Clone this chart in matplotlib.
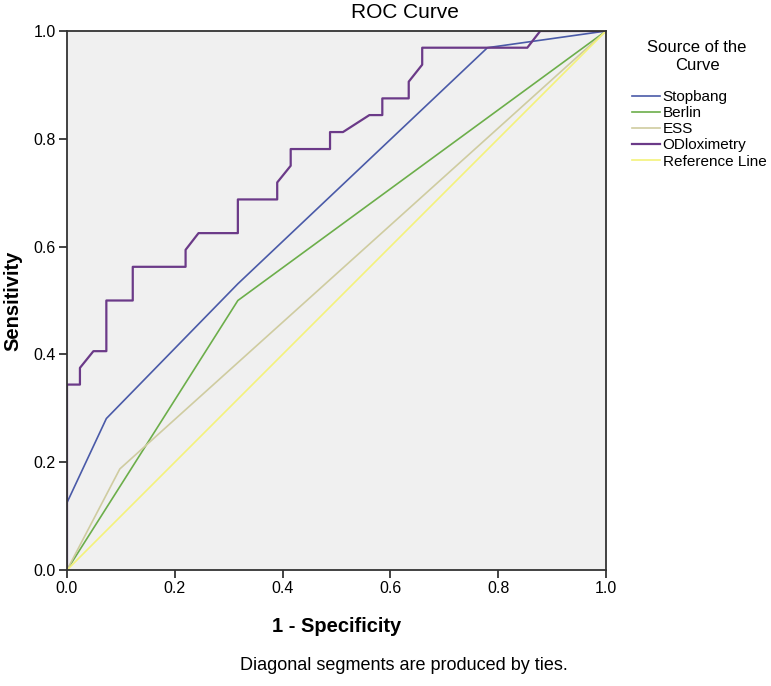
import matplotlib
matplotlib.use("Agg")
import matplotlib.pyplot as plt

# ROC coordinates (1 - specificity, sensitivity)
stop_x = [0.0, 0.0, 0.073, 0.317, 0.780, 1.0]
stop_y = [0.0, 0.125, 0.281, 0.531, 0.969, 1.0]

berlin_x = [0.0, 0.317, 1.0]
berlin_y = [0.0, 0.5, 1.0]

ess_x = [0.0, 0.098, 1.0]
ess_y = [0.0, 0.1875, 1.0]

odi_x = [0.0, 0.0, 0.024, 0.024, 0.049, 0.073, 0.073, 0.122, 0.122, 0.220,
         0.220, 0.244, 0.317, 0.317, 0.390, 0.390, 0.415, 0.415, 0.488, 0.488,
         0.512, 0.561, 0.585, 0.585, 0.634, 0.634, 0.659, 0.659, 0.854, 0.878, 1.0]
odi_y = [0.0, 0.344, 0.344, 0.375, 0.406, 0.406, 0.5, 0.5, 0.5625, 0.5625,
         0.594, 0.625, 0.625, 0.6875, 0.6875, 0.719, 0.75, 0.781, 0.781, 0.8125,
         0.8125, 0.844, 0.844, 0.875, 0.875, 0.906, 0.9375, 0.969, 0.969, 1.0, 1.0]

ref_x = [0.0, 1.0]
ref_y = [0.0, 1.0]

ticks = [0.0, 0.2, 0.4, 0.6, 0.8, 1.0]

plt.rcParams["font.family"] = ["Liberation Sans", "DejaVu Sans"]

W, H = 771, 686
fig = plt.figure(figsize=(W / 100, H / 100), dpi=100)
ax = fig.add_axes([67 / W, 116 / H, 539 / W, 539 / H])
ax.set_facecolor("#f0f0f0")

ax.plot(stop_x, stop_y, color="#4a5aa8", lw=1.2, label="Stopbang")
ax.plot(berlin_x, berlin_y, color="#6cae4a", lw=1.2, label="Berlin")
ax.plot(ess_x, ess_y, color="#cfcca0", lw=1.2, label="ESS")
ax.plot(odi_x, odi_y, color="#6b3a88", lw=1.6, label="ODloximetry")
ax.plot(ref_x, ref_y, color="#f4f27a", lw=1.2, label="Reference Line")

ax.set_xlim(0, 1)
ax.set_ylim(0, 1)
ax.set_xticks(ticks)
ax.set_yticks(ticks)
ax.set_xticklabels([f"{t:.1f}" for t in ticks])
ax.set_yticklabels([f"{t:.1f}" for t in ticks])
ax.tick_params(direction="out", length=6, width=1.2, labelsize=11.5, color="#222222", pad=2)
for s in ax.spines.values():
    s.set_color("#333333")
    s.set_linewidth(1.3)

ax.set_xlabel("1 - Specificity", fontsize=14.5, fontweight="bold", labelpad=15)
ax.set_ylabel("Sensitivity", fontsize=14.5, fontweight="bold", labelpad=8)

# title and footnote are centred on the whole chart, not the plot area
fig.text(405 / W, 1 - 13 / H, "ROC Curve", ha="center", va="center", fontsize=15)
fig.text(404 / W, 1 - 665 / H, "Diagonal segments are produced by ties.",
         ha="center", va="center", fontsize=13)

# legend
fig.text(697 / W, 1 - 57 / H, "Source of the\nCurve", ha="center", va="center",
         fontsize=12, linespacing=1.25)
fig.legend(loc="upper left", bbox_to_anchor=(632 / W, 1 - 90 / H),
           frameon=False, fontsize=11, handlelength=1.85, handletextpad=0.15,
           labelspacing=0.14, borderaxespad=0, borderpad=0)

fig.savefig("out.png", dpi=100)
